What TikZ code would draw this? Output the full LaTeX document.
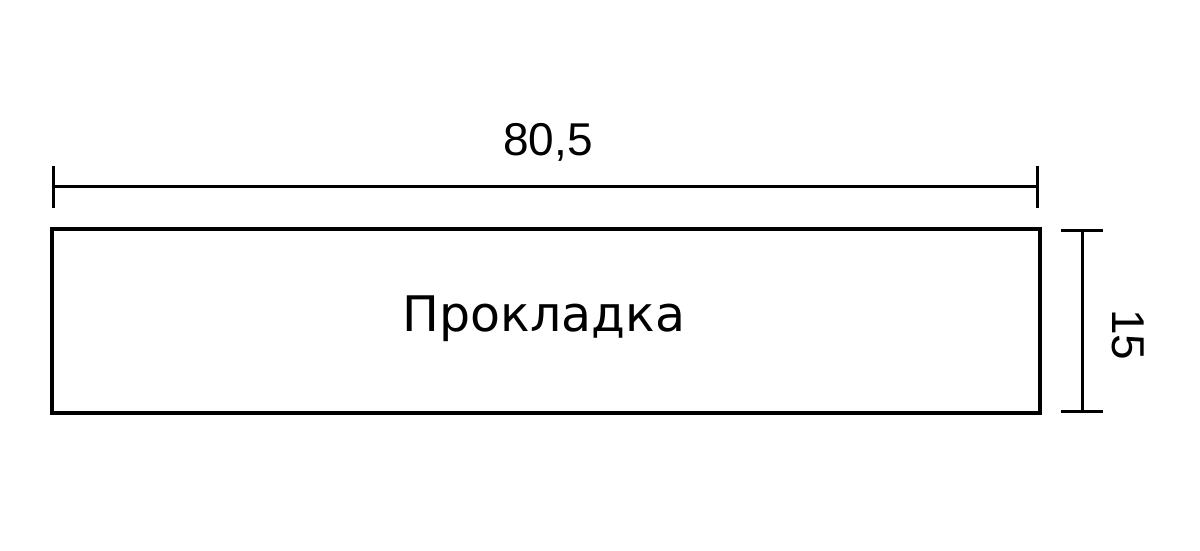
\documentclass[tikz,border=0pt]{standalone}
\usepackage{fontspec}
\setmainfont{Liberation Sans}
\newfontfamily\padfont{DejaVu Sans}
\usetikzlibrary{arrows.meta}

\begin{document}
\begin{tikzpicture}[x=0.5pt,y=-0.5pt,line cap=round]
	\tikzstyle{dimline}=[line width=1.5pt,{Bar[width=21pt,line width=1.5pt]}-{Bar[width=21pt,line width=1.5pt]}];
	\tikzstyle{dimtext}=[font=\fontsize{23}{27}\selectfont,inner sep=0pt];
	\useasboundingbox[fill=white] (0,0) rectangle (1200,551);
	%% Pad
	\draw[line width=2.3pt] (52,229) coordinate (TL) rectangle (1040,413) coordinate (BR);
	\node[font=\padfont\fontsize{24.5}{28}\selectfont,inner sep=0pt] (pad) at (544,319) {Прокладка};
	%% Dimension lines
	\coordinate (W1) at (52,187);
	\coordinate (W2) at (1039,187);
	\draw[dimline] (W1) -- (W2);
	\coordinate (H1) at (1082,229);
	\coordinate (H2) at (1082,413);
	\draw[dimline] (H1) -- (H2);
	%% Labels
	\node[dimtext] (width) at (548,142) {80,5};
	\node[dimtext,rotate=-90] (height) at (1128,335) {15};
\end{tikzpicture}
\end{document}
